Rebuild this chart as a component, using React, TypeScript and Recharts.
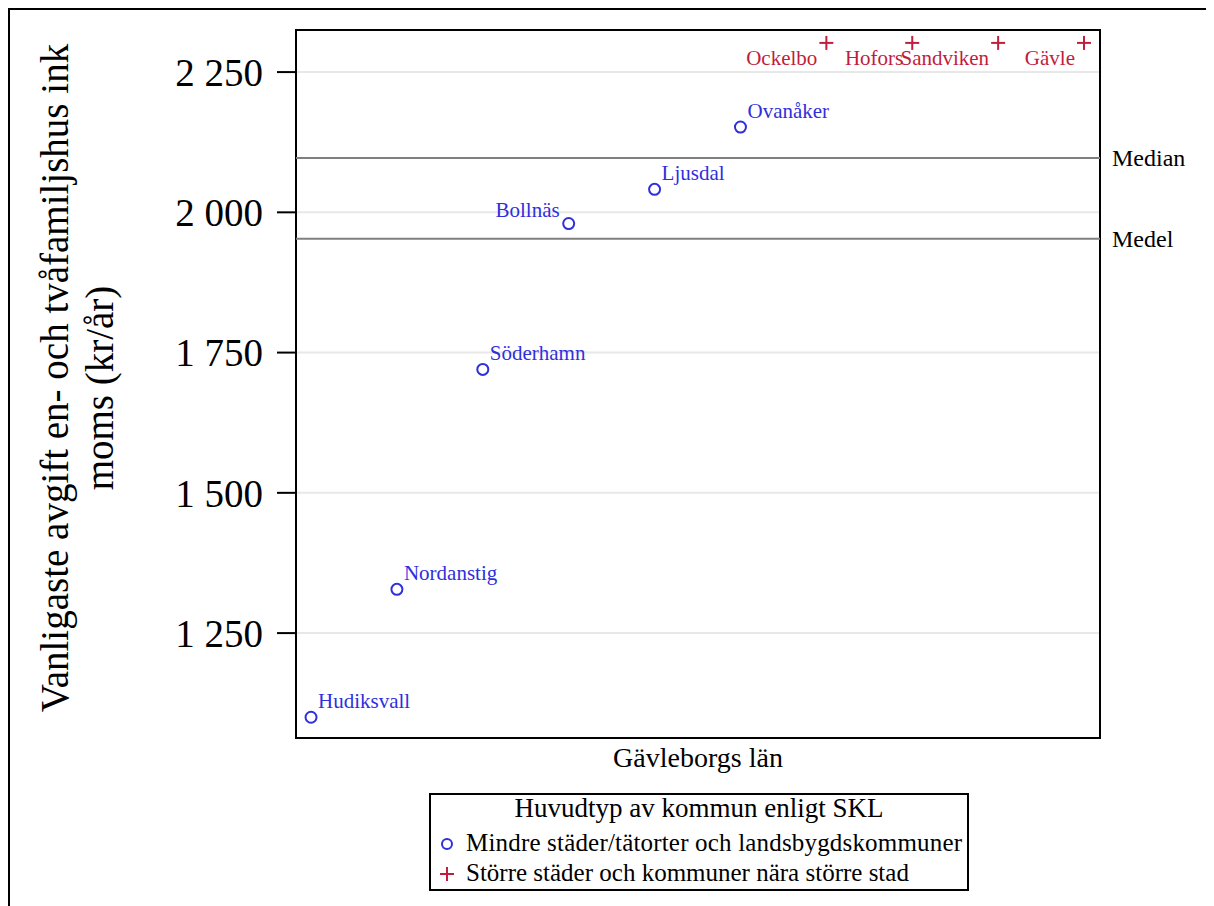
import React from 'react';
import { ScatterChart, Scatter, XAxis, YAxis, CartesianGrid, ReferenceLine, ReferenceArea } from 'recharts';

const smallNames = ['Hudiksvall', 'Nordanstig', 'Söderhamn', 'Bollnäs', 'Ljusdal', 'Ovanåker'];
const smallRanks = [1, 2, 3, 4, 5, 6];
const smallValues = [1100, 1328, 1720, 1980, 2041, 2152];
const largeNames = ['Ockelbo', 'Hofors', 'Sandviken', 'Gävle'];
const largeRanks = [7, 8, 9, 10];
const largeValues = [2302, 2302, 2302, 2302];
const leftLabels = ['Bollnäs'];
const yTicks = [1250, 1500, 1750, 2000, 2250];
const medianValue = 2097;
const meanValue = 1953;

const BLUE = '#2f2fdc';
const RED = '#c11d3d';
const FONT = '"Liberation Serif", "Times New Roman", serif';

const smallData = smallNames.map((name, i) => ({
  name,
  x: smallRanks[i],
  y: smallValues[i],
  left: leftLabels.includes(name),
}));
const largeData = largeNames.map((name, i) => ({ name, x: largeRanks[i], y: largeValues[i] }));

const fmt = (v: number) => `${Math.floor(v / 1000)} ${String(v % 1000).padStart(3, '0')}`;

const CircleShape = (props: any) => {
  const { cx, cy, payload } = props;
  const left = payload.left;
  return (
    <g>
      <circle cx={cx} cy={cy} r={5.5} fill="none" stroke={BLUE} strokeWidth={2} />
      <text
        x={left ? cx - 9 : cx + 7}
        y={left ? cy - 7 : cy - 9}
        textAnchor={left ? 'end' : 'start'}
        fontSize={21}
        fill={BLUE}
        fontFamily={FONT}
      >
        {payload.name}
      </text>
    </g>
  );
};

const PlusShape = (props: any) => {
  const { cx, cy, payload } = props;
  return (
    <g>
      <line x1={cx - 7} x2={cx + 7} y1={cy} y2={cy} stroke={RED} strokeWidth={2} />
      <line x1={cx} x2={cx} y1={cy - 7} y2={cy + 7} stroke={RED} strokeWidth={2} />
      <text x={cx - 9} y={cy + 22} textAnchor="end" fontSize={21} fill={RED} fontFamily={FONT}>
        {payload.name}
      </text>
    </g>
  );
};

export default function App() {
  return (
    <div style={{ position: 'relative', width: 1206, height: 898, fontFamily: FONT }}>
      <div
        style={{
          position: 'absolute',
          left: 0,
          top: 0,
          width: 1206,
          height: 898,
          borderTop: '2px solid #000',
          borderLeft: '2px solid #000',
          boxSizing: 'border-box',
        }}
      />
      <div style={{ position: 'absolute', left: 0, top: 0 }}>
        <ScatterChart width={1206} height={898} margin={{ top: 22, right: 114, bottom: 168, left: 168 }}>
          <CartesianGrid vertical={false} stroke="#e8e8e8" strokeWidth={2} />
          <XAxis type="number" dataKey="x" domain={[0.825, 10.186]} allowDataOverflow hide />
          <YAxis
            type="number"
            dataKey="y"
            width={120}
            domain={[1063, 2325]}
            allowDataOverflow
            ticks={yTicks}
            tickFormatter={fmt}
            axisLine={false}
            tickLine={{ stroke: '#000', strokeWidth: 2 }}
            tickSize={19}
            tickMargin={14}
            tick={{ fontSize: 39, fill: '#000', fontFamily: FONT }}
          />
          <ReferenceLine
            y={medianValue}
            stroke="#808080"
            strokeWidth={2}
            label={{ value: 'Median', position: 'right', offset: 12, fill: '#000', fontSize: 24, fontFamily: FONT }}
          />
          <ReferenceLine
            y={meanValue}
            stroke="#808080"
            strokeWidth={2}
            label={{ value: 'Medel', position: 'right', offset: 12, fill: '#000', fontSize: 24, fontFamily: FONT }}
          />
          <ReferenceArea x1={0.825} x2={10.186} y1={1063} y2={2325} fill="none" stroke="#000" strokeWidth={2} />
          <Scatter data={smallData} shape={CircleShape} isAnimationActive={false} />
          <Scatter data={largeData} shape={PlusShape} isAnimationActive={false} />
        </ScatterChart>
      </div>
      <svg
        width={1206}
        height={898}
        style={{ position: 'absolute', left: 0, top: 0, pointerEvents: 'none' }}
        fontFamily={FONT}
      >
        <text transform="translate(60,370) rotate(-90)" textAnchor="middle" fontSize={39} fill="#000">
          Vanligaste avgift en- och tvåfamiljshus ink
        </text>
        <text transform="translate(105,380) rotate(-90)" textAnchor="middle" fontSize={39} fill="#000">
          moms (kr/år)
        </text>
        <text x={690} y={759} textAnchor="middle" fontSize={28} fill="#000">
          Gävleborgs län
        </text>
        <rect x={422} y={786} width={538} height={96} fill="#fff" stroke="#000" strokeWidth={2} />
        <text x={691} y={809} textAnchor="middle" fontSize={27} fill="#000">
          Huvudtyp av kommun enligt SKL
        </text>
        <circle cx={439} cy={836} r={5} fill="none" stroke={BLUE} strokeWidth={2} />
        <text x={458} y={843} fontSize={25} fill="#000" textLength={496} lengthAdjust="spacing">
          Mindre städer/tätorter och landsbygdskommuner
        </text>
        <line x1={432} x2={446} y1={866} y2={866} stroke={RED} strokeWidth={2} />
        <line x1={439} x2={439} y1={859} y2={873} stroke={RED} strokeWidth={2} />
        <text x={458} y={873} fontSize={25} fill="#000">
          Större städer och kommuner nära större stad
        </text>
      </svg>
    </div>
  );
}
